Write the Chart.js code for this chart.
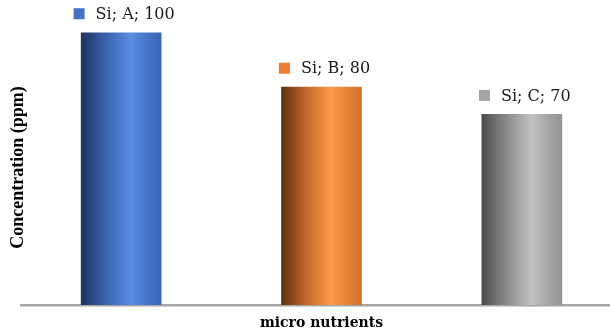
<!DOCTYPE html>
<html>
<head>
<meta charset="utf-8">
<script src="https://cdn.jsdelivr.net/npm/chart.js@4/dist/chart.umd.min.js"></script>
<style>
  html, body { margin: 0; padding: 0; background: #fff; overflow: hidden; }
  #wrap { width: 630px; height: 334px; }
</style>
</head>
<body>
<div id="wrap"><canvas id="chart" width="630" height="334"></canvas></div>
<script>
// Silicon concentration per sample
const element = 'Si';
const categories = ['A', 'B', 'C'];
const concentration = [100, 80, 70];

const xTitle = 'micro nutrients';
const yTitle = 'Concentration (ppm)';

// Cylinder-like horizontal shading per bar, plus the flat colour of the label key
const shades = [
  { key: '#4472c4', stops: ['#1b335f', '#3a62ad', '#5b8de3', '#4472c4', '#3c66b3'] },
  { key: '#ed7d31', stops: ['#5e3112', '#c0662a', '#ff9a48', '#e17f35', '#d07231'] },
  { key: '#a5a5a5', stops: ['#4a4a4a', '#8a8a8a', '#c2c2c2', '#a3a3a3', '#949494'] }
];
const stopPos = [0, 0.3, 0.62, 0.85, 1];
const BAR_W = 80;

function barFill(context) {
  const chart = context.chart;
  const xs = chart.scales.x;
  if (!chart.chartArea || !xs) return shades[context.dataIndex].key;
  const cx = xs.getPixelForValue(context.dataIndex);
  const g = chart.ctx.createLinearGradient(cx - BAR_W / 2, 0, cx + BAR_W / 2, 0);
  shades[context.dataIndex].stops.forEach((c, i) => g.addColorStop(stopPos[i], c));
  return g;
}

// Key square + "Si; X; value" text above each bar, and both axis titles
const annotate = {
  id: 'annotate',
  afterDatasetsDraw(chart) {
    const ctx = chart.ctx;
    const meta = chart.getDatasetMeta(0);
    ctx.save();
    ctx.font = '16px "DejaVu Serif"';
    ctx.textBaseline = 'middle';
    ctx.textAlign = 'left';
    meta.data.forEach((bar, i) => {
      const text = element + '; ' + categories[i] + '; ' + concentration[i];
      const tw = ctx.measureText(text).width;
      const sq = 11, gap = 11;
      const total = sq + gap + tw;
      const left = bar.x + 3 - total / 2;
      const midY = bar.y - 19;
      ctx.fillStyle = shades[i].key;
      ctx.fillRect(left, midY - sq / 2, sq, sq);
      ctx.fillStyle = '#1a1a1a';
      ctx.fillText(text, left + sq + gap, midY + 1);
    });

    const area = chart.chartArea;
    ctx.fillStyle = '#000';
    ctx.textAlign = 'center';
    ctx.textBaseline = 'middle';
    ctx.font = 'bold 14px "DejaVu Serif"';
    ctx.fillText(xTitle, (area.left + area.right) / 2, 323);

    ctx.translate(18, (area.top + area.bottom) / 2);
    ctx.rotate(-Math.PI / 2);
    ctx.font = 'bold 18px "Liberation Serif"';
    ctx.fillText(yTitle, 0, 0);
    ctx.restore();
  }
};

new Chart(document.getElementById('chart'), {
  type: 'bar',
  data: {
    labels: categories,
    datasets: [{
      label: element,
      data: concentration,
      backgroundColor: barFill,
      borderWidth: 0,
      barThickness: BAR_W
    }]
  },
  options: {
    responsive: false,
    animation: false,
    layout: { padding: { top: 30, left: 21, right: 8, bottom: 29 } },
    plugins: { legend: { display: false }, tooltip: { enabled: false } },
    scales: {
      x: {
        offset: true,
        ticks: { display: false },
        grid: { display: false, drawTicks: false },
        border: { display: true, color: '#a6a6a6', width: 2.5 }
      },
      y: {
        display: false,
        min: 0,
        max: 101
      }
    }
  },
  plugins: [annotate]
});
</script>
</body>
</html>
